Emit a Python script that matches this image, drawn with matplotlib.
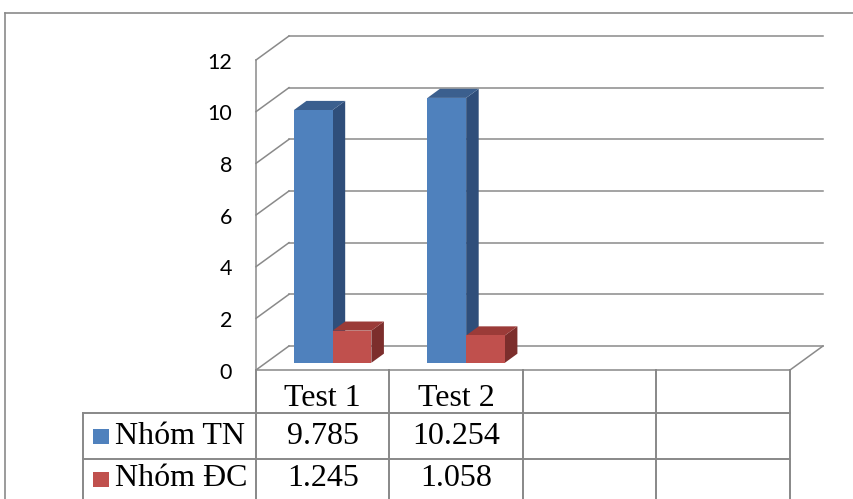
import matplotlib
matplotlib.use("Agg")
import matplotlib.pyplot as plt
from matplotlib.patches import Polygon, Rectangle
from matplotlib.lines import Line2D
import matplotlib.transforms as mtransforms

# ---- data ----
categories = ["Test 1", "Test 2", "", ""]
series_names = ["Nhóm TN", "Nhóm ĐC"]
series_values = [[9.785, 10.254], [1.245, 1.058]]
y_ticks = [0, 2, 4, 6, 8, 10, 12]

front_colors = ["#4F81BD", "#C0504D"]
top_colors = ["#3B5F8E", "#9B3B38"]
side_colors = ["#2F4E7A", "#7C2E2C"]
grid_color = "#8A8A8A"

W, H = 854, 499
fig = plt.figure(figsize=(W / 100, H / 100), dpi=100)
ax = fig.add_axes([256 / W, 1 - 370 / H, 534 / W, 310 / H])
ax.set_xlim(0, len(categories))
ax.set_ylim(0, 12)
ax.axis("off")

# depth of the 3D box in data units
DX = 33 / 133.5
DY = 24 / 25.83
d0, d1 = 0.30, 0.68
bw = 0.29

ncat = len(categories)

# back wall gridlines + side wall diagonals
for t in y_ticks:
    ax.add_line(Line2D([DX, ncat + DX], [t + DY, t + DY], color=grid_color, lw=1.1, clip_on=False, zorder=1))
    ax.add_line(Line2D([0, DX], [t, t + DY], color=grid_color, lw=1.1, clip_on=False, zorder=1))
# vertical axis line
ax.add_line(Line2D([0, 0], [0, 12], color=grid_color, lw=1.1, clip_on=False, zorder=1))
# floor right edge
ax.add_line(Line2D([ncat, ncat + DX], [0, DY], color=grid_color, lw=1.1, clip_on=False, zorder=1))

# y tick labels
for t in y_ticks:
    ax.text(-0.18, t - 0.1, str(t), ha="right", va="center", fontsize=15.5,
            family=["Lato", "DejaVu Sans"], color="#000000")

# bars
for i in range(len(series_values[0])):
    for s, vals in enumerate(series_values):
        v = vals[i]
        x0 = i + 0.5 - bw * len(series_values) / 2 + s * bw
        ox, oy = d0 * DX, d0 * DY
        bx, by = d1 * DX, d1 * DY
        front = [(x0 + ox, oy), (x0 + bw + ox, oy), (x0 + bw + ox, v + oy), (x0 + ox, v + oy)]
        top = [(x0 + ox, v + oy), (x0 + bw + ox, v + oy), (x0 + bw + bx, v + by), (x0 + bx, v + by)]
        side = [(x0 + bw + ox, oy), (x0 + bw + bx, by), (x0 + bw + bx, v + by), (x0 + bw + ox, v + oy)]
        z = 3 + i * 2 + s * 0.5
        ax.add_patch(Polygon(side, closed=True, facecolor=side_colors[s], edgecolor="none", clip_on=False, zorder=z))
        ax.add_patch(Polygon(top, closed=True, facecolor=top_colors[s], edgecolor="none", clip_on=False, zorder=z))
        ax.add_patch(Polygon(front, closed=True, facecolor=front_colors[s], edgecolor="none", clip_on=False, zorder=z + 0.1))

# ---- data table ----
bt = mtransforms.blended_transform_factory(ax.transData, fig.transFigure)
def fy(px):
    return 1 - px / H
def fx(px):
    return px / W

tc = "#888888"
tlw = 1.4
fs = 23
# header top (floor front line)
ax.add_line(Line2D([0, ncat], [0, 0], color=tc, lw=1.1, clip_on=False, zorder=2))
# vertical column lines
for k in range(ncat + 1):
    fig.add_artist(Line2D([k, k], [fy(370), fy(H + 2)], transform=bt, color=tc, lw=tlw))
# row lines
for ypx in (413, 459):
    fig.add_artist(Line2D([fx(83), fx(256)], [fy(ypx), fy(ypx)], transform=fig.transFigure, color=tc, lw=tlw))
    fig.add_artist(Line2D([0, ncat], [fy(ypx), fy(ypx)], transform=bt, color=tc, lw=tlw))
# left edge of legend column
fig.add_artist(Line2D([fx(83), fx(83)], [fy(413), fy(H + 2)], transform=fig.transFigure, color=tc, lw=tlw))

serif = ["Liberation Serif", "DejaVu Serif"]
for k, c in enumerate(categories):
    if c:
        fig.text(k + 0.5, fy(398), c, transform=bt, ha="center", va="center", fontsize=fs, family=serif)

row_y = [436, 479]
for s, name in enumerate(series_names):
    y = row_y[s]
    fig.add_artist(Rectangle((fx(93), fy(y + 7.5)), 16 / W, 15 / H, transform=fig.transFigure,
                             facecolor=front_colors[s], edgecolor="none"))
    fig.text(fx(115), fy(y), name, ha="left", va="center", fontsize=fs, family=serif)
    for i, v in enumerate(series_values[s]):
        fig.text(i + 0.5, fy(y), f"{v:.3f}", transform=bt, ha="center", va="center", fontsize=fs, family=serif)

# outer chart border
fig.add_artist(Line2D([fx(5), fx(W + 2)], [fy(13), fy(13)], transform=fig.transFigure, color="#8A8A8A", lw=1.2))
fig.add_artist(Line2D([fx(5), fx(5)], [fy(13), fy(H + 2)], transform=fig.transFigure, color="#8A8A8A", lw=1.2))

fig.savefig("out.png", dpi=100)
